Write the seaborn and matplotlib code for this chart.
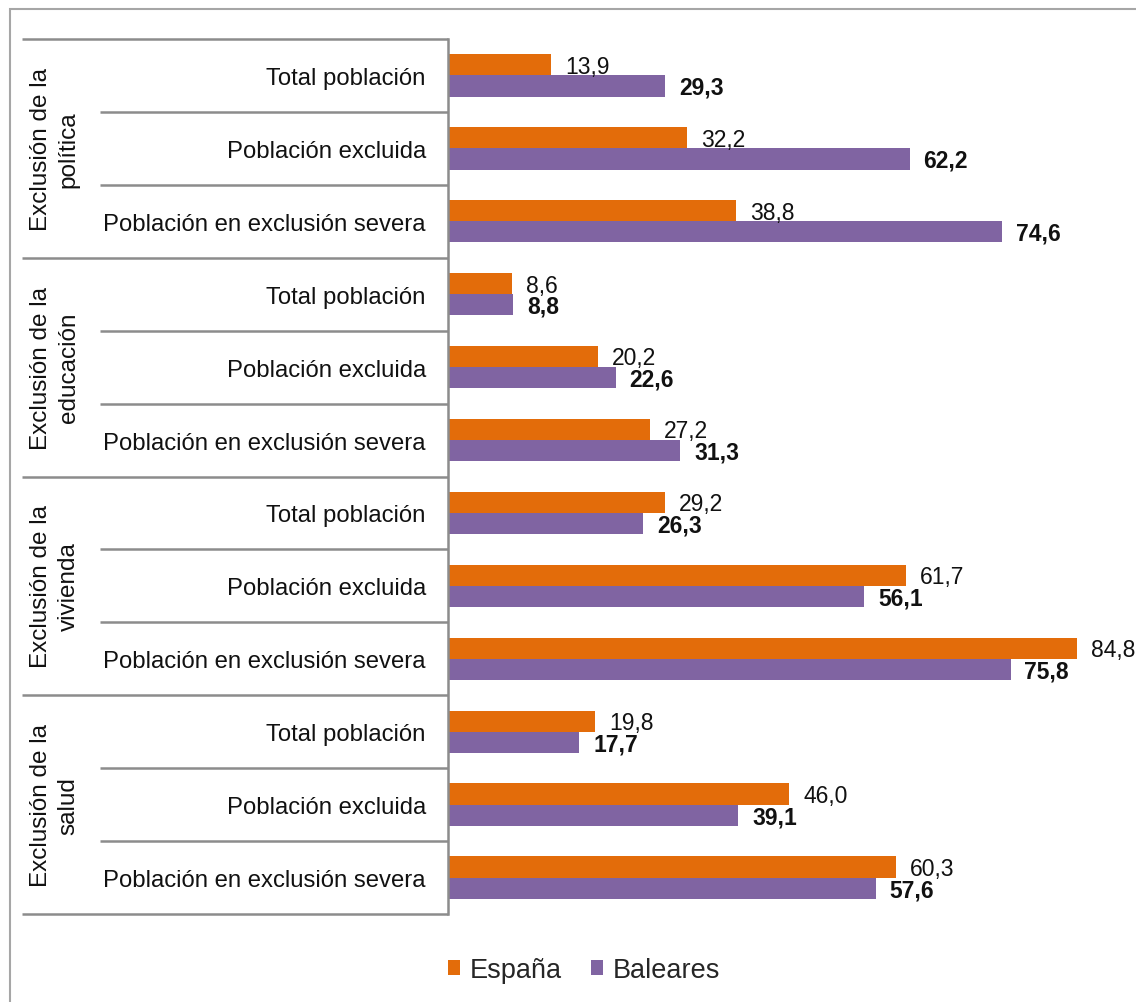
import pandas as pd
import seaborn as sns
import matplotlib.pyplot as plt
from matplotlib.patches import Rectangle
from matplotlib.transforms import blended_transform_factory

grupos = ["Exclusión de la\npolítica", "Exclusión de la\neducación",
          "Exclusión de la\nvivienda", "Exclusión de la\nsalud"]
subcategorias = ["Total población", "Población excluida", "Población en exclusión severa"]
series = ["España", "Baleares"]
espana = [13.9, 32.2, 38.8, 8.6, 20.2, 27.2, 29.2, 61.7, 84.8, 19.8, 46.0, 60.3]
baleares = [29.3, 62.2, 74.6, 8.8, 22.6, 31.3, 26.3, 56.1, 75.8, 17.7, 39.1, 57.6]
colores = ["#E36C0A", "#8064A2"]

# tabla larga para seaborn (clave única por fila)
filas = []
for i, (e, b) in enumerate(zip(espana, baleares)):
    g = grupos[i // 3]
    s = subcategorias[i % 3]
    clave = f"{i:02d}|{s}"
    filas.append({"clave": clave, "grupo": g, "sub": s, "serie": series[0], "valor": e})
    filas.append({"clave": clave, "grupo": g, "sub": s, "serie": series[1], "valor": b})
df = pd.DataFrame(filas)
orden = list(dict.fromkeys(df["clave"]))

sns.set_theme(style="white")
plt.rcParams["font.family"] = ["Liberation Sans", "DejaVu Sans"]

W, H = 1136, 1003
fig = plt.figure(figsize=(W / 100, H / 100), dpi=100)
x0, x1, y0, y1 = 448, 1116, 40, 915
ax = fig.add_axes([x0 / W, 1 - y1 / H, (x1 - x0) / W, (y1 - y0) / H])

sns.barplot(data=df, y="clave", x="valor", hue="serie", order=orden,
            hue_order=series, palette=colores, orient="h", width=0.58,
            linewidth=0, saturation=1, ax=ax, legend=True)

ax.set_xlim(0, 90)
ax.set_ylim(len(orden) - 0.5, -0.5)
ax.set_xlabel("")
ax.set_ylabel("")
ax.set_xticks([])
ax.set_yticks(range(len(orden)))
ax.set_yticklabels([c.split("|")[1] for c in orden], fontsize=17.2, color="#111111")
ax.tick_params(axis="y", length=0, pad=16)
for lado in ["top", "right", "bottom"]:
    ax.spines[lado].set_visible(False)
ax.spines["left"].set_color("#8c8c8c")
ax.spines["left"].set_linewidth(1.8)

# etiquetas de valores
for cont, serie in zip(ax.containers, series):
    for barra in cont:
        v = barra.get_width()
        yc = barra.get_y() + barra.get_height() / 2
        ax.annotate(f"{v:.1f}".replace(".", ","), (v, yc), xytext=(10, -1),
                    textcoords="offset points", va="center", ha="left",
                    fontsize=16.5, color="#111111",
                    fontweight="bold" if serie == "Baleares" else "normal",
                    annotation_clip=False)

# líneas separadoras y etiquetas de grupo
trans = blended_transform_factory(ax.transAxes, ax.transData)
px = lambda x: (x - x0) / (x1 - x0)
for k in range(len(orden) + 1):
    yb = k - 0.5
    xs = px(22) if k % 3 == 0 else px(100)
    ax.plot([xs, 0], [yb, yb], transform=trans, color="#8c8c8c", lw=1.8,
            clip_on=False, solid_capstyle="butt")
for j, g in enumerate(grupos):
    ax.text(px(55), 3 * j + 1, g, transform=trans, rotation=90, ha="center",
            va="center", multialignment="center", fontsize=17.5, color="#111111",
            linespacing=1.3)

leg = ax.legend(loc="center", bbox_to_anchor=(584 / W, 1 - 971 / H),
                bbox_transform=fig.transFigure, ncol=2, frameon=False,
                fontsize=19.5, handlelength=0.45, handleheight=0.45,
                handletextpad=0.35, columnspacing=1.1)

fig.patches.append(Rectangle((10 / W, -0.02), 1.2, 1 - 10 / H + 0.02,
                             transform=fig.transFigure, fill=False,
                             edgecolor="#a6a6a6", lw=1.5))

fig.savefig("out.png", dpi=100)
